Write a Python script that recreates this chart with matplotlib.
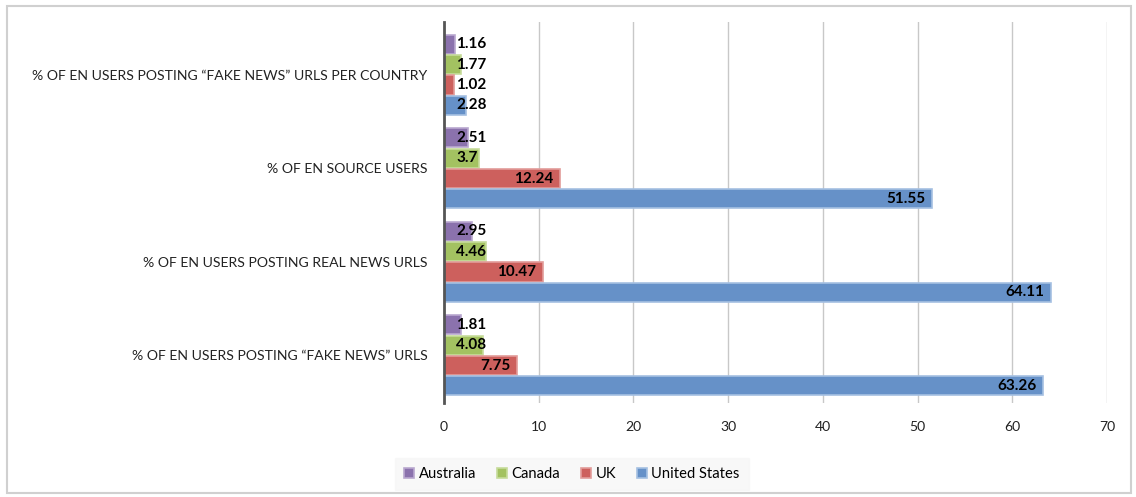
'''
Grouped horizontal bars: share of EN users per country
'''
import matplotlib
matplotlib.use("Agg")
import matplotlib.pyplot as plt
import numpy as np
from matplotlib.patches import Rectangle

# categories, top to bottom
categories = [
    "% OF EN USERS POSTING \u201cFAKE NEWS\u201d URLS PER COUNTRY",
    "% OF EN SOURCE USERS",
    "% OF EN USERS POSTING REAL NEWS URLS",
    "% OF EN USERS POSTING \u201cFAKE NEWS\u201d URLS",
]
countries = ["Australia", "Canada", "UK", "United States"]
australia = [1.16, 2.51, 2.95, 1.81]
canada = [1.77, 3.7, 4.46, 4.08]
uk = [1.02, 12.24, 10.47, 7.75]
united_states = [2.28, 51.55, 64.11, 63.26]
x_ticks = [0, 10, 20, 30, 40, 50, 60, 70]

series = [australia, canada, uk, united_states]
colors = ["#8b72ad", "#a3c261", "#cd605d", "#6691c8"]
edges = ["#b9a8cf", "#c6dc9b", "#e29c9a", "#a5c0e2"]

plt.rcParams["font.family"] = ["Lato", "DejaVu Sans"]

fig = plt.figure(figsize=(11.36, 4.97), dpi=100)
ax = fig.add_axes([444 / 1136, 1 - 403 / 497, 663 / 1136, 381 / 497])

pitch = 0.218      # distance between bars in a group
height = 0.205
y = np.arange(len(categories))
for i, (vals, name) in enumerate(zip(series, countries)):
    pos = y - 1.5 * pitch + i * pitch
    ax.barh(pos, vals, height=height, color=colors[i], edgecolor=edges[i],
            linewidth=1.2, label=name, zorder=3)
    for p, v in zip(pos, vals):
        if v < 6:   # short bar: label starts near the axis
            ax.annotate(str(v), (0, p), xytext=(12, 0), textcoords="offset pixels",
                        ha="left", va="center", fontsize=11, fontweight="bold", zorder=4)
        else:
            ax.annotate(str(v), (v, p), xytext=(-7, 0), textcoords="offset pixels",
                        ha="right", va="center", fontsize=11, fontweight="bold", zorder=4)

ax.set_xlim(0, 70)
ax.set_ylim(3.51, -0.565)
ax.set_xticks(x_ticks)
ax.set_yticks(y)
ax.set_yticklabels(categories)
ax.tick_params(axis="both", length=0, labelsize=10.1, colors="#222222")
ax.tick_params(axis="x", pad=13)
ax.tick_params(axis="y", pad=12)
ax.grid(axis="x", color="#c8c8c8", linewidth=1, zorder=0)
for s in ["top", "right", "bottom"]:
    ax.spines[s].set_visible(False)
ax.spines["left"].set_color("#555555")
ax.spines["left"].set_linewidth(2)
ax.spines["left"].set_zorder(5)

leg = fig.legend(loc="center", bbox_to_anchor=(572 / 1136, 1 - 474 / 497), ncol=4,
                 fontsize=10.6, frameon=True, handlelength=0.7, handleheight=0.7,
                 handletextpad=0.3, columnspacing=1.4, borderpad=0.6)
leg.get_frame().set_facecolor("#f7f7f7")
leg.get_frame().set_edgecolor("#f7f7f7")
leg.get_frame().set_boxstyle("square", pad=0)

fig.add_artist(Rectangle((7 / 1136, 4 / 497), 1124 / 1136, 487 / 497,
                         transform=fig.transFigure, fill=False,
                         edgecolor="#d0d0d0", linewidth=1.5))

fig.savefig("out.png", dpi=100)
